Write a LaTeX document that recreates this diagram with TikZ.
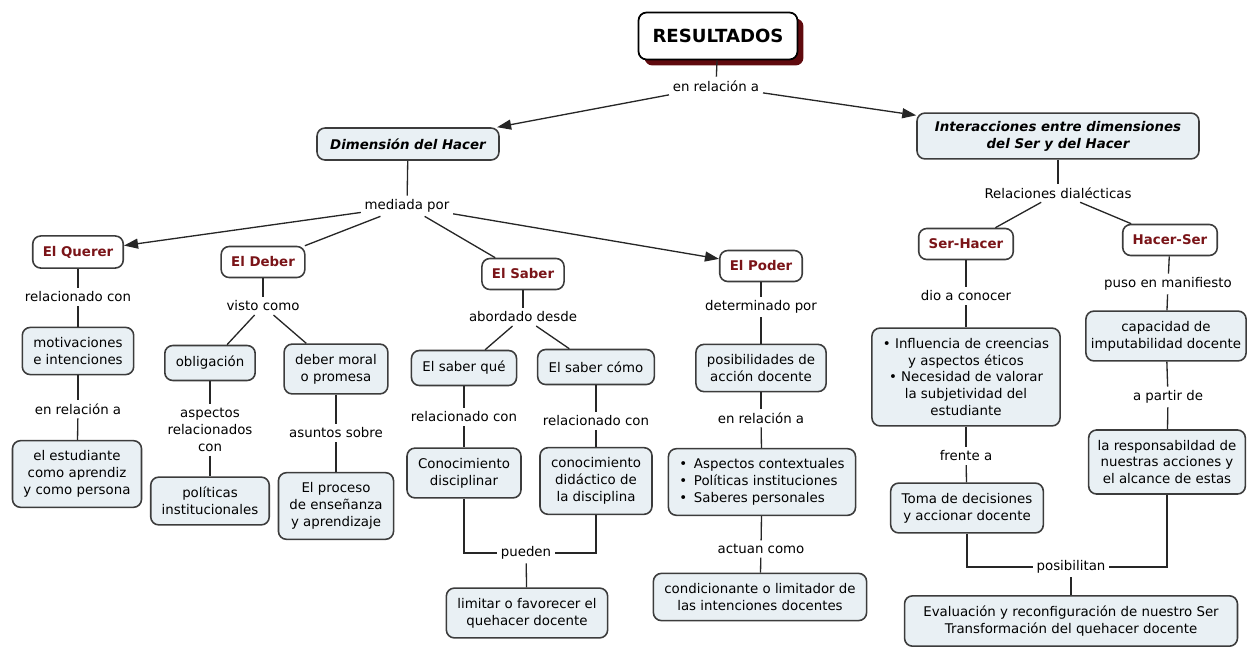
\documentclass[tikz,border=0pt]{standalone}
\usepackage{xcolor}
\usepackage{fontspec}
\setmainfont{DejaVu Sans}
\usepackage{tikz}
\usetikzlibrary{arrows.meta, positioning, shadows}
\definecolor{conceptfill}{RGB}{233, 240, 244}
\definecolor{conceptline}{RGB}{60, 60, 60}
\definecolor{pillarred}{RGB}{122, 20, 24}
\definecolor{shadowred}{RGB}{96, 10, 14}

\begin{document}
\begin{tikzpicture}[
    x=0.02cm, y=-0.02cm,
    font=\fontsize{7.6}{9.6}\selectfont,
    concept/.style={draw=conceptline, line width=0.9pt, rounded corners=0.16cm,
                    fill=conceptfill, align=center, inner xsep=0.22cm,
                    inner ysep=0.2cm, minimum height=0.7cm},
    dimension/.style={concept, font=\fontsize{7.6}{9.6}\selectfont\bfseries\itshape},
    pillar/.style={concept, fill=white, text=pillarred, inner xsep=0.2cm,
                   minimum height=0.62cm, font=\fontsize{7.6}{9.6}\selectfont\bfseries},
    linker/.style={fill=white, align=center, inner sep=2pt},
    link/.style={draw=black!85, line width=0.75pt},
    arrow/.style={link, -{Triangle[length=0.28cm, width=0.2cm]}}
]
    \useasboundingbox (0,0) rectangle (1248,646);

    \node[draw=black, line width=1pt, rounded corners=0.16cm, fill=white,
          minimum width=3.18cm, minimum height=0.94cm,
          font=\fontsize{10.3}{12}\selectfont\bfseries,
          drop shadow={shadow xshift=0.12cm, shadow yshift=-0.12cm,
                       fill=shadowred, opacity=1}] (resultados) at (718,36) {RESULTADOS};
    \node[linker] (enrelacion) at (716,86) {en relación a};

    \node[dimension, minimum width=3.64cm, minimum height=0.64cm] (hacer) at (408,144) {Dimensión del Hacer};
    \node[dimension, minimum width=5.64cm, inner ysep=0.16cm] (interacciones) at (1058,136)
        {Interacciones entre dimensiones\\del Ser y del Hacer};

    \node[linker] (mediada) at (407,206) {mediada por};
    \node[pillar] (querer) at (78,252) {El Querer};
    \node[pillar] (deber) at (263,262) {El Deber};
    \node[pillar] (saber) at (523,274) {El Saber};
    \node[pillar] (poder) at (761,266) {El Poder};

    \node[linker] (relq) at (78,297) {relacionado con};
    \node[concept] (motivaciones) at (78,351) {motivaciones\\e intenciones};
    \node[linker] (enrelq) at (78,409) {en relación a};
    \node[concept] (estudiante) at (77,474) {el estudiante\\como aprendiz\\y como persona};

    \node[linker] (visto) at (263,306) {visto como};
    \node[concept] (obligacion) at (210,363) {obligación};
    \node[concept] (moral) at (336,369) {deber moral\\o promesa};
    \node[linker] (aspectosrel) at (210,430) {aspectos\\relacionados\\con};
    \node[concept] (politicas) at (210,501) {políticas\\institucionales};
    \node[linker] (asuntos) at (336,433) {asuntos sobre};
    \node[concept] (proceso) at (336,506) {El proceso\\de enseñanza\\y aprendizaje};

    \node[linker] (abordado) at (523,317) {abordado desde};
    \node[concept] (saberque) at (464,368) {El saber qué};
    \node[concept] (sabercomo) at (596,367) {El saber cómo};
    \node[linker] (relque) at (464,417) {relacionado con};
    \node[linker] (relcomo) at (596,421) {relacionado con};
    \node[concept] (disciplinar) at (464,473) {Conocimiento\\disciplinar};
    \node[concept] (didactico) at (596,481) {conocimiento\\didáctico de\\la disciplina};
    \node[linker] (pueden) at (526,553) {pueden};
    \node[concept] (limitar) at (527,613) {limitar o favorecer el\\quehacer docente};

    \node[linker] (determinado) at (761,307) {determinado por};
    \node[concept] (posibilidades) at (761,368) {posibilidades de\\acción docente};
    \node[linker] (enrelp) at (761,418) {en relación a};
    \node[concept, align=left] (contextuales) at (762,482)
        {•\enspace Aspectos contextuales\\•\enspace Políticas instituciones\\•\enspace Saberes personales};
    \node[linker] (actuan) at (761,549) {actuan como};
    \node[concept] (condicionante) at (760,597) {condicionante o limitador de\\las intenciones docentes};

    \node[linker] (dialecticas) at (1058,193) {Relaciones dialécticas};
    \node[pillar] (serhacer) at (966,244) {Ser-Hacer};
    \node[pillar] (hacerser) at (1170,240) {Hacer-Ser};

    \node[linker] (conocer) at (966,296) {dio a conocer};
    \node[concept] (creencias) at (966,377)
        {• Influencia de creencias\\y aspectos éticos\\• Necesidad de valorar\\la subjetividad del\\estudiante};
    \node[linker] (frente) at (966,456) {frente a};
    \node[concept] (decisiones) at (967,508) {Toma de decisiones\\y accionar docente};

    \node[linker] (manifiesto) at (1168,284) {puso en manifiesto};
    \node[concept, inner xsep=0.1cm] (imputabilidad) at (1166,336) {capacidad de\\imputabilidad docente};
    \node[linker] (apartir) at (1168,397) {a partir de};
    \node[concept, inner xsep=0.18cm] (responsabilidad) at (1167,462)
        {la responsabildad de\\nuestras acciones y\\el alcance de estas};
    \node[linker] (posibilitan) at (1071,567) {posibilitan};
    \node[concept, minimum width=6.66cm] (evaluacion) at (1071,621)
        {Evaluación y reconfiguración de nuestro Ser\\Transformación del quehacer docente};

    \draw[link] (resultados) -- (enrelacion);
    \draw[arrow] (enrelacion) -- (hacer);
    \draw[arrow] (enrelacion) -- (interacciones);
    \draw[link] (hacer) -- (mediada);
    \draw[arrow] (mediada) -- (querer);
    \draw[arrow] (mediada) -- (poder);
    \draw[link] (interacciones) -- (dialecticas);

    \foreach \from/\to in {mediada/deber, mediada/saber,
                           querer/relq, relq/motivaciones, motivaciones/enrelq, enrelq/estudiante,
                           deber/visto, visto/obligacion, visto/moral,
                           obligacion/aspectosrel, aspectosrel/politicas,
                           moral/asuntos, asuntos/proceso,
                           saber/abordado, abordado/saberque, abordado/sabercomo,
                           saberque/relque, relque/disciplinar,
                           sabercomo/relcomo, relcomo/didactico, pueden/limitar,
                           poder/determinado, determinado/posibilidades,
                           posibilidades/enrelp, enrelp/contextuales,
                           contextuales/actuan, actuan/condicionante,
                           dialecticas/serhacer, dialecticas/hacerser,
                           serhacer/conocer, conocer/creencias,
                           creencias/frente, frente/decisiones,
                           hacerser/manifiesto, manifiesto/imputabilidad,
                           imputabilidad/apartir, apartir/responsabilidad,
                           posibilitan/evaluacion}
        \draw[link] (\from) -- (\to);

    \draw[link] (disciplinar.south) |- (pueden.west);
    \draw[link] (didactico.south) |- (pueden.east);
    \draw[link] (decisiones.south) |- (posibilitan.west);
    \draw[link] (responsabilidad.south) |- (posibilitan.east);
\end{tikzpicture}
\end{document}
